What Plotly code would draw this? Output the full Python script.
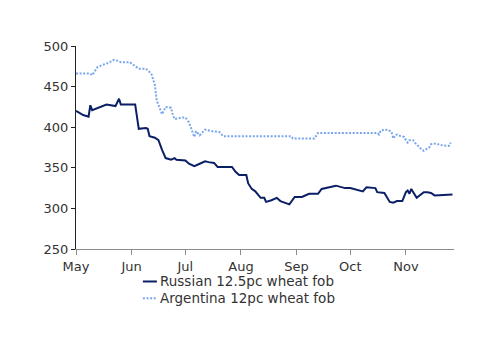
import plotly.graph_objects as go

russian_dates = ["2022-05-01", "2022-05-03", "2022-05-05", "2022-05-08", "2022-05-09", "2022-05-10",
                 "2022-05-18", "2022-05-23", "2022-05-25", "2022-05-26", "2022-06-03", "2022-06-05",
                 "2022-06-09", "2022-06-10", "2022-06-11", "2022-06-14", "2022-06-16", "2022-06-18",
                 "2022-06-19", "2022-06-20", "2022-06-23", "2022-06-25", "2022-06-26", "2022-07-01",
                 "2022-07-03", "2022-07-06", "2022-07-09", "2022-07-12", "2022-07-14", "2022-07-17",
                 "2022-07-19", "2022-07-27", "2022-07-29", "2022-07-31", "2022-08-04", "2022-08-05",
                 "2022-08-07", "2022-08-09", "2022-08-12", "2022-08-14", "2022-08-15", "2022-08-18",
                 "2022-08-21", "2022-08-23", "2022-08-28", "2022-08-30", "2022-08-31", "2022-09-04",
                 "2022-09-08", "2022-09-13", "2022-09-15", "2022-09-23", "2022-09-28", "2022-10-01",
                 "2022-10-05", "2022-10-08", "2022-10-10", "2022-10-15", "2022-10-16", "2022-10-20",
                 "2022-10-23", "2022-10-25", "2022-10-27", "2022-10-30", "2022-11-01", "2022-11-02",
                 "2022-11-03", "2022-11-04", "2022-11-07", "2022-11-11", "2022-11-13", "2022-11-15",
                 "2022-11-17", "2022-11-27"]
russian_values = [420, 417, 415, 413, 427, 421,
                  428, 426, 435, 428, 428, 398,
                  399, 398, 389, 387, 384, 372,
                  367, 362, 360, 362, 360, 359,
                  355, 352, 355, 358, 357, 356,
                  351, 351, 345, 341, 341, 331,
                  324, 321, 313, 313, 308, 310,
                  313, 309, 305, 311, 314, 314,
                  318, 318, 324, 328, 325, 325,
                  323, 321, 326, 325, 320, 319,
                  308, 307, 309, 309, 320, 322,
                  318, 324, 313, 320, 320, 319,
                  316, 317]

argentina_dates = ["2022-05-01", "2022-05-09", "2022-05-10", "2022-05-13", "2022-05-16", "2022-05-19",
                   "2022-05-22", "2022-05-24", "2022-05-26", "2022-05-31", "2022-06-05", "2022-06-09",
                   "2022-06-12", "2022-06-14", "2022-06-15", "2022-06-17", "2022-06-18", "2022-06-20",
                   "2022-06-23", "2022-06-24", "2022-06-25", "2022-06-29", "2022-07-01", "2022-07-03",
                   "2022-07-06", "2022-07-07", "2022-07-09", "2022-07-12", "2022-07-16", "2022-07-20",
                   "2022-07-22", "2022-08-29", "2022-08-30", "2022-09-11", "2022-09-13", "2022-10-16",
                   "2022-10-17", "2022-10-18", "2022-10-22", "2022-10-24", "2022-10-25", "2022-10-26",
                   "2022-10-27", "2022-10-29", "2022-10-31", "2022-11-01", "2022-11-02", "2022-11-03",
                   "2022-11-05", "2022-11-06", "2022-11-08", "2022-11-10", "2022-11-11", "2022-11-14",
                   "2022-11-15", "2022-11-18", "2022-11-20", "2022-11-24", "2022-11-25", "2022-11-26"]
argentina_values = [466, 466, 464, 474, 477, 479,
                    483, 482, 480, 480, 472, 472,
                    466, 452, 433, 423, 416, 425,
                    424, 415, 410, 412, 412, 406,
                    388, 395, 390, 397, 395, 394,
                    389, 389, 386, 386, 393, 393,
                    391, 396, 397, 394, 386, 390,
                    391, 389, 388, 384, 381, 384,
                    384, 381, 376, 372, 371, 375,
                    379, 380, 378, 377, 377, 381]

y_ticks = [250, 300, 350, 400, 450, 500]

series_names = ["Russian 12.5pc wheat fob", "Argentina 12pc wheat fob"]
series_colors = ["#0b1f66", "#79a6ec"]
series_dash = ["solid", "2px,1.6px"]

font_family = "DejaVu Sans"
text_color = "#333333"

fig = go.Figure()
fig.add_trace(go.Scatter(x=russian_dates, y=russian_values, mode="lines",
                         name=series_names[0],
                         line=dict(color=series_colors[0], width=2, dash=series_dash[0])))
fig.add_trace(go.Scatter(x=argentina_dates, y=argentina_values, mode="lines",
                         name=series_names[1],
                         line=dict(color=series_colors[1], width=2, dash=series_dash[1])))

# custom legend (short line samples like the original)
legend_rows_y = [-0.160, -0.243]
for name, color, dash, ly in zip(series_names, series_colors, series_dash, legend_rows_y):
    fig.add_shape(type="line", xref="paper", yref="paper",
                  x0=0.177, x1=0.214, y0=ly, y1=ly,
                  line=dict(color=color, width=2, dash=dash))
    fig.add_annotation(xref="paper", yref="paper", x=0.216, y=ly,
                       xanchor="left", yanchor="middle", showarrow=False,
                       text=name, font=dict(size=13.5, color=text_color, family=font_family))

fig.update_layout(
    width=500, height=353,
    margin=dict(l=76, r=46, t=46, b=104),
    paper_bgcolor="white", plot_bgcolor="white",
    font=dict(family=font_family, size=13, color=text_color),
    showlegend=False,
    xaxis=dict(type="date", range=["2022-05-01", "2022-11-27 20:00"],
               tick0="2022-05-01", dtick="M1", tickformat="%b",
               showgrid=False, zeroline=False,
               showline=True, linecolor="#8c8c8c", linewidth=1,
               ticks="outside", ticklen=5, tickcolor="#8c8c8c",
               tickfont=dict(size=13, color=text_color)),
    yaxis=dict(range=[250, 500], tickvals=y_ticks,
               showgrid=False, zeroline=False,
               showline=True, linecolor="#222222", linewidth=1,
               ticks="outside", ticklen=4, tickcolor="#222222",
               tickfont=dict(size=13, color=text_color)),
)

fig.write_html("out.html")
